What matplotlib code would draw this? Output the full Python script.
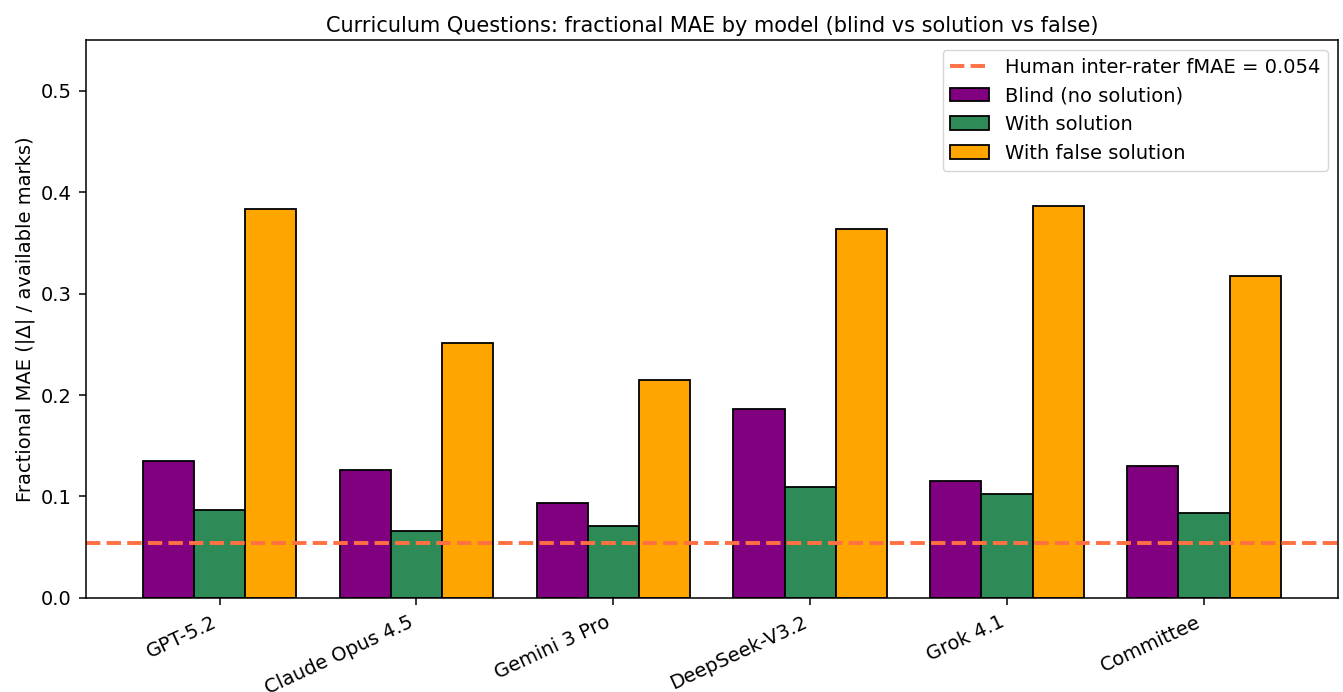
import matplotlib
matplotlib.use("Agg")
import matplotlib.pyplot as plt
import numpy as np

models = ["GPT-5.2", "Claude Opus 4.5", "Gemini 3 Pro", "DeepSeek-V3.2", "Grok 4.1", "Committee"]
blind = [0.135, 0.126, 0.094, 0.186, 0.115, 0.130]
with_solution = [0.087, 0.066, 0.071, 0.109, 0.102, 0.084]
false_solution = [0.383, 0.251, 0.215, 0.364, 0.386, 0.317]
human_fmae = 0.054

fig = plt.figure(figsize=(13.43, 6.92), dpi=100)
ax = fig.add_axes([0.064, 0.136, 0.932, 0.806])

x = np.arange(len(models))
w = 0.26
ax.bar(x - w, blind, w, color="purple", edgecolor="black", linewidth=1.3, label="Blind (no solution)")
ax.bar(x, with_solution, w, color="seagreen", edgecolor="black", linewidth=1.3, label="With solution")
ax.bar(x + w, false_solution, w, color="orange", edgecolor="black", linewidth=1.3, label="With false solution")
ax.axhline(human_fmae, color="#ff7043", linestyle="--", linewidth=2.8,
           label=f"Human inter-rater fMAE = {human_fmae}")

ax.set_xticks(x)
ax.set_xticklabels(models, rotation=25, ha="right", fontsize=14)
ax.tick_params(axis="both", length=5, width=1.1, pad=5.5, labelsize=14)
for s in ax.spines.values():
    s.set_linewidth(1.1)
ax.set_ylim(0, 0.55)
ax.set_ylabel("Fractional MAE (|Δ| / available marks)", fontsize=14)
ax.set_title("Curriculum Questions: fractional MAE by model (blind vs solution vs false)", fontsize=15)
ax.legend(loc="upper right", fontsize=14)

fig.savefig("out.png", dpi=100)
